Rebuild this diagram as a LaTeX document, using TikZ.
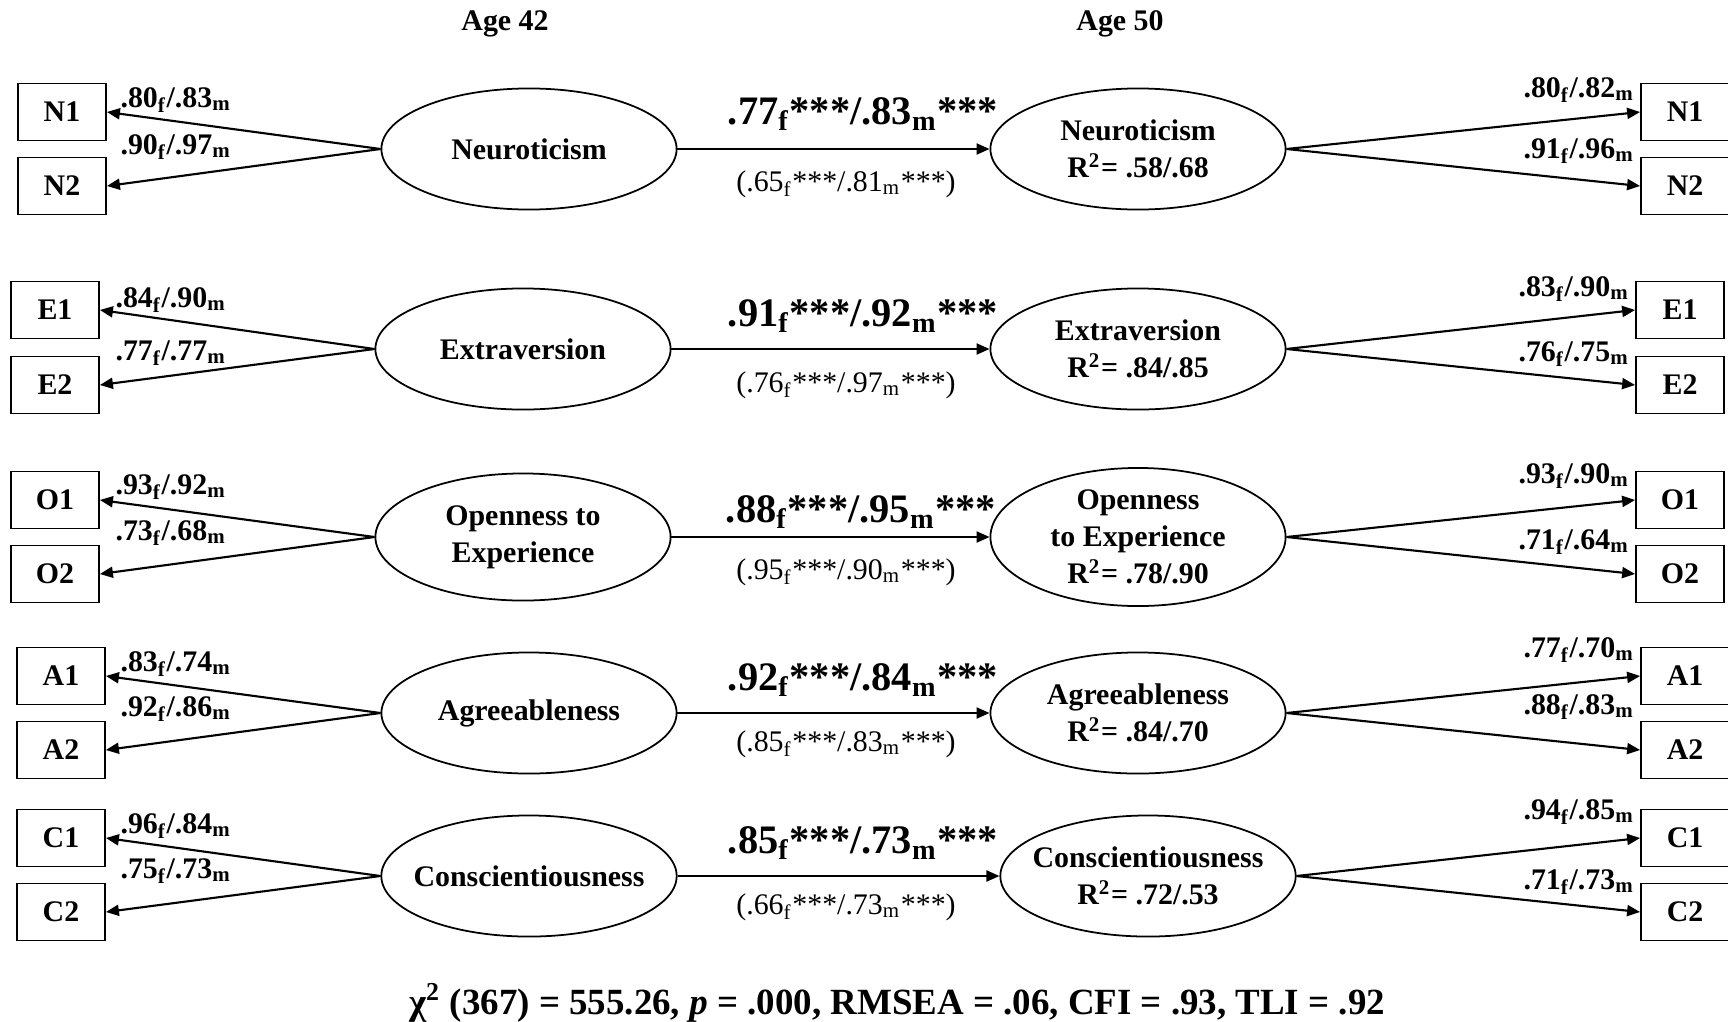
\documentclass[tikz,border=0pt]{standalone}
\usepackage{fontspec}
\setmainfont{Liberation Serif}
\usetikzlibrary{arrows.meta,shapes.geometric}
\newcommand{\loadlab}[2]{#1\textsubscript{f}/#2\textsubscript{m}}
\newcommand{\pathlab}[2]{#1\textsubscript{f}***/#2\textsubscript{m}***}

\begin{document}
\begin{tikzpicture}[
  x=0.01cm, y=-0.01cm,
  font=\fontsize{8.5}{10.5}\selectfont\bfseries,
  >={Triangle[length=0.13cm,width=0.11cm]},
  % ---- node styles ----
  indbox/.style={
    draw, line width=0.5pt,
    minimum width=0.88cm, minimum height=0.57cm,
    inner sep=0pt
  },
  latent/.style={
    draw, ellipse, line width=0.5pt,
    minimum width=2.95cm, minimum height=1.21cm,
    inner sep=0pt, align=center
  },
  bigpath/.style={font=\fontsize{11.5}{13}\selectfont\bfseries},
  smallpath/.style={font=\fontsize{8.5}{10}\selectfont, color=black},
  arr/.style={->, line width=0.6pt},
]
\useasboundingbox (0,0) rectangle (1728,1021);

% ---- Ages ----
\node (age42) at (505,24) {Age 42};
\node (age50) at (1120,24) {Age 50};

% ---- Neuroticism (y = 149) ----
\node[indbox] (n1l) at (62,112) {N1};
\node[indbox] (n2l) at (62,186) {N2};
\node[latent] (neu42) at (529,149) {Neuroticism};
\node[latent] (neu50) at (1138,149) {Neuroticism\\R\textsuperscript{2}= .58/.68};
\node[indbox] (n1r) at (1685,112) {N1};
\node[indbox] (n2r) at (1685,186) {N2};
\draw[arr] (neu42.west) -- (n1l.east);
\draw[arr] (neu42.west) -- (n2l.east);
\draw[arr] (neu42) -- (neu50);
\draw[arr] (neu50.east) -- (n1r.west);
\draw[arr] (neu50.east) -- (n2r.west);
\node at (176,100) {\loadlab{.80}{.83}};
\node at (176,147) {\loadlab{.90}{.97}};
\node[bigpath] at (863,114) {\pathlab{.77}{.83}};
\node[smallpath] at (846,184) {(\pathlab{.65}{.81})};
\node at (1579,90) {\loadlab{.80}{.82}};
\node at (1579,151) {\loadlab{.91}{.96}};

% ---- Extraversion (y = 349) ----
\node[indbox] (e1l) at (55,310) {E1};
\node[indbox] (e2l) at (55,385) {E2};
\node[latent] (ext42) at (523,349) {Extraversion};
\node[latent] (ext50) at (1138,349) {Extraversion\\R\textsuperscript{2}= .84/.85};
\node[indbox] (e1r) at (1680,310) {E1};
\node[indbox] (e2r) at (1680,385) {E2};
\draw[arr] (ext42.west) -- (e1l.east);
\draw[arr] (ext42.west) -- (e2l.east);
\draw[arr] (ext42) -- (ext50);
\draw[arr] (ext50.east) -- (e1r.west);
\draw[arr] (ext50.east) -- (e2r.west);
\node at (171,300) {\loadlab{.84}{.90}};
\node at (171,353) {\loadlab{.77}{.77}};
\node[bigpath] at (863,316) {\pathlab{.91}{.92}};
\node[smallpath] at (846,385) {(\pathlab{.76}{.97})};
\node at (1574,289) {\loadlab{.83}{.90}};
\node at (1574,354) {\loadlab{.76}{.75}};

% ---- Openness (y = 537) ----
\node[indbox] (o1l) at (55,500) {O1};
\node[indbox] (o2l) at (55,574) {O2};
\node[latent, minimum height=1.27cm] (ope42) at (523,537) {Openness to\\Experience};
\node[latent, minimum height=1.38cm] (ope50) at (1138,537) {Openness\\to Experience\\R\textsuperscript{2}= .78/.90};
\node[indbox] (o1r) at (1680,500) {O1};
\node[indbox] (o2r) at (1680,574) {O2};
\draw[arr] (ope42.west) -- (o1l.east);
\draw[arr] (ope42.west) -- (o2l.east);
\draw[arr] (ope42) -- (ope50);
\draw[arr] (ope50.east) -- (o1r.west);
\draw[arr] (ope50.east) -- (o2r.west);
\node at (171,487) {\loadlab{.93}{.92}};
\node at (171,533) {\loadlab{.73}{.68}};
\node[bigpath] at (861,512) {\pathlab{.88}{.95}};
\node[smallpath] at (846,572) {(\pathlab{.95}{.90})};
\node at (1574,476) {\loadlab{.93}{.90}};
\node at (1574,542) {\loadlab{.71}{.64}};

% ---- Agreeableness (y = 713) ----
\node[indbox] (a1l) at (61,676) {A1};
\node[indbox] (a2l) at (61,750) {A2};
\node[latent] (agr42) at (529,713) {Agreeableness};
\node[latent] (agr50) at (1138,713) {Agreeableness\\R\textsuperscript{2}= .84/.70};
\node[indbox] (a1r) at (1685,676) {A1};
\node[indbox] (a2r) at (1685,750) {A2};
\draw[arr] (agr42.west) -- (a1l.east);
\draw[arr] (agr42.west) -- (a2l.east);
\draw[arr] (agr42) -- (agr50);
\draw[arr] (agr50.east) -- (a1r.west);
\draw[arr] (agr50.east) -- (a2r.west);
\node at (176,664) {\loadlab{.83}{.74}};
\node at (176,709) {\loadlab{.92}{.86}};
\node[bigpath] at (863,680) {\pathlab{.92}{.84}};
\node[smallpath] at (846,744) {(\pathlab{.85}{.83})};
\node at (1579,650) {\loadlab{.77}{.70}};
\node at (1579,707) {\loadlab{.88}{.83}};

% ---- Conscientiousness (y = 876) ----
\node[indbox] (c1l) at (61,838) {C1};
\node[indbox] (c2l) at (61,912) {C2};
\node[latent, inner xsep=-0.11cm] (con42) at (529,876) {Conscientiousness};
\node[latent, inner xsep=-0.11cm] (con50) at (1148,876) {Conscientiousness\\R\textsuperscript{2}= .72/.53};
\node[indbox] (c1r) at (1685,838) {C1};
\node[indbox] (c2r) at (1685,912) {C2};
\draw[arr] (con42.west) -- (c1l.east);
\draw[arr] (con42.west) -- (c2l.east);
\draw[arr] (con42) -- (con50);
\draw[arr] (con50.east) -- (c1r.west);
\draw[arr] (con50.east) -- (c2r.west);
\node at (176,826) {\loadlab{.96}{.84}};
\node at (176,871) {\loadlab{.75}{.73}};
\node[bigpath] at (863,843) {\pathlab{.85}{.73}};
\node[smallpath] at (846,907) {(\pathlab{.66}{.73})};
\node at (1579,812) {\loadlab{.94}{.85}};
\node at (1579,882) {\loadlab{.71}{.73}};

% ---- Fit indices ----
\node[font=\fontsize{10.5}{12}\selectfont\bfseries] (fit) at (897,1003)
  {χ\textsuperscript{2} (367) = 555.26, \textit{p} = .000, RMSEA = .06, CFI = .93, TLI = .92};

\end{tikzpicture}
\end{document}
